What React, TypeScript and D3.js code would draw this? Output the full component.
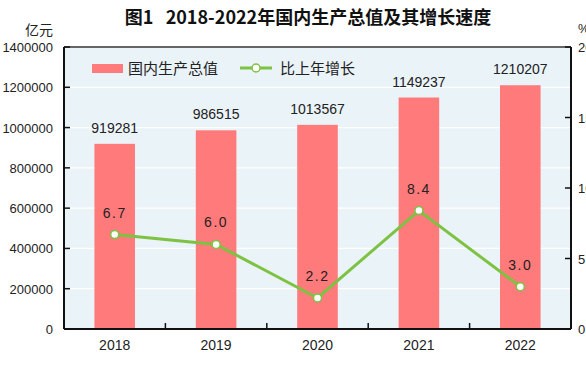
import React from "react";
import * as d3 from "d3";

const years = ["2018", "2019", "2020", "2021", "2022"];
const gdp = [919281, 986515, 1013567, 1149237, 1210207];
const growth = [6.7, 6.0, 2.2, 8.4, 3.0];
const leftTicks = [0, 200000, 400000, 600000, 800000, 1000000, 1200000, 1400000];
const rightTicks = [0, 5, 10, 15, 20];

const W = 586;
const H = 370;
const margin = { top: 47, right: 15, bottom: 41, left: 64 };

const BAR = "#ff7a7a";
const LINE = "#7dc242";
const BG = "#eaf3f8";
const FONT = "'Liberation Sans', 'Noto Sans CJK SC', sans-serif";
const CJK = "'Noto Sans CJK SC', sans-serif";

export default function App() {
  const x = d3
    .scaleBand()
    .domain(years)
    .range([margin.left, W - margin.right])
    .paddingInner(0.6)
    .paddingOuter(0.3);
  const gap = (x.step() - x.bandwidth()) / 2;
  const yL = d3.scaleLinear().domain([0, 1400000]).range([H - margin.bottom, margin.top]);
  const yR = d3.scaleLinear().domain([0, 20]).range([H - margin.bottom, margin.top]);
  const cx = (yr: string) => x(yr)! + x.bandwidth() / 2;
  const line = d3
    .line<number>()
    .x((d, i) => cx(years[i]))
    .y((d) => yR(d));

  const x0 = margin.left;
  const x1 = W - margin.right;
  const yb = H - margin.bottom;

  return (
    <svg width={W} height={H} style={{ position: "absolute", left: 0, top: 0, background: "#fff" }}>
      <text x={308} y={24} textAnchor="middle" fontFamily={CJK} fontWeight="bold" fontSize={18} fill="#111">
        图1{"\u00a0\u00a0\u00a0"}2018-2022年国内生产总值及其增长速度
      </text>
      <text x={53} y={35} textAnchor="end" fontFamily={CJK} fontSize={14} fill="#222">亿元</text>
      <text x={578} y={33} fontFamily={FONT} fontSize={13} fill="#222">%</text>

      <rect x={x0} y={margin.top} width={x1 - x0} height={yb - margin.top} fill={BG} />
      {leftTicks.slice(1).map((t) => (
        <line key={t} x1={x0} x2={x1} y1={yL(t)} y2={yL(t)} stroke="#fff" strokeWidth={1.2} />
      ))}

      {years.map((yr, i) => (
        <rect key={yr} x={x(yr)} y={yL(gdp[i])} width={x.bandwidth()} height={yb - yL(gdp[i])} fill={BAR} />
      ))}
      {years.map((yr, i) => (
        <text key={yr} x={cx(yr)} y={yL(gdp[i]) - 11} textAnchor="middle" fontFamily={FONT} fontSize={14} fill="#222">
          {gdp[i]}
        </text>
      ))}

      <path d={line(growth)!} fill="none" stroke={LINE} strokeWidth={3} />
      {growth.map((g, i) => (
        <g key={i}>
          <circle cx={cx(years[i])} cy={yR(g)} r={4} fill="#fff" stroke={LINE} strokeWidth={1.5} />
          <text x={cx(years[i])} y={yR(g) - 17} textAnchor="middle" fontFamily={FONT} fontSize={14} letterSpacing={1.5} fill="#222">
            {g.toFixed(1)}
          </text>
        </g>
      ))}

      {/* frame */}
      <line x1={x0} x2={x1} y1={margin.top} y2={margin.top} stroke="#333" strokeWidth={1.5} />
      <line x1={x0} x2={x0} y1={margin.top} y2={yb} stroke="#111" strokeWidth={2} />
      <line x1={x1} x2={x1} y1={margin.top} y2={yb} stroke="#111" strokeWidth={2} />
      <line x1={x0} x2={x1} y1={yb} y2={yb} stroke="#111" strokeWidth={2} />

      {leftTicks.map((t) => (
        <g key={t}>
          <line x1={x0} x2={x0 + 6} y1={yL(t)} y2={yL(t)} stroke="#111" strokeWidth={1.5} />
          <text x={53} y={yL(t) + 5} textAnchor="end" fontFamily={FONT} fontSize={13} fill="#222">{t}</text>
        </g>
      ))}
      {rightTicks.map((t) => (
        <g key={t}>
          <line x1={x1 - 6} x2={x1} y1={yR(t)} y2={yR(t)} stroke="#111" strokeWidth={1.5} />
          <text x={578} y={yR(t) + 5} fontFamily={FONT} fontSize={13} fill="#222">{t}</text>
        </g>
      ))}
      {years.slice(1).map((yr) => (
        <line key={yr} x1={x(yr)! - gap} x2={x(yr)! - gap} y1={yb} y2={yb - 6} stroke="#111" strokeWidth={1.5} />
      ))}
      {years.map((yr) => (
        <text key={yr} x={cx(yr)} y={yb + 21} textAnchor="middle" fontFamily={FONT} fontSize={14} fill="#222">{yr}</text>
      ))}

      {/* legend */}
      <rect x={92} y={64} width={31} height={9} fill={BAR} />
      <text x={128} y={74} fontFamily={CJK} fontSize={15} fill="#222">国内生产总值</text>
      <line x1={240} x2={272} y1={68} y2={68} stroke={LINE} strokeWidth={3} />
      <circle cx={256} cy={68} r={4} fill="#fff" stroke={LINE} strokeWidth={1.5} />
      <text x={280} y={74} fontFamily={CJK} fontSize={15} fill="#222">比上年增长</text>
    </svg>
  );
}
